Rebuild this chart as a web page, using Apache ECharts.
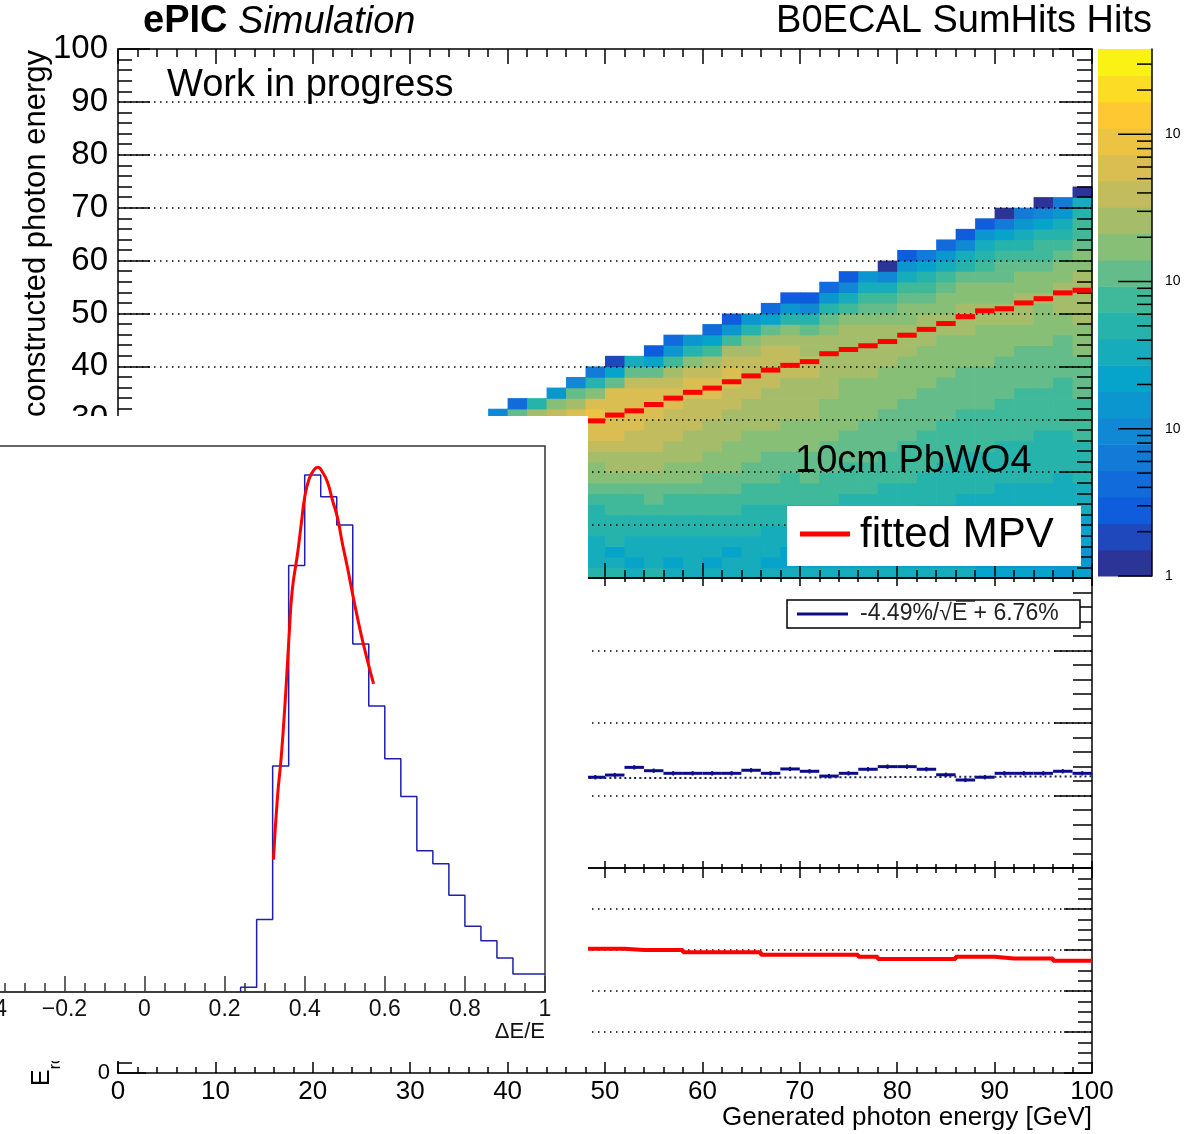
<!DOCTYPE html>
<html><head><meta charset="utf-8">
<script src="https://cdn.jsdelivr.net/npm/echarts@6/dist/echarts.min.js"></script>
<style>html,body{margin:0;padding:0;background:#fff}#c{width:1188px;height:1134px}</style>
</head><body><div id="c"></div>
<script>
// ================= DATA =================
// x bins (generated photon energy, GeV) for the per-bin results
const energyBinStarts = [48,50,52,54,56,58,60,62,64,66,68,70,72,74,76,78,80,82,84,86,88,90,92,94,96,98];
const energyBinWidth = 2;
// fitted MPV of reconstructed energy (GeV) per bin (top panel, red)
const mpvValues = [29.7,30.8,31.6,32.8,34.0,35.1,35.9,37.1,38.2,39.3,40.2,40.9,42.4,43.2,43.9,44.7,45.9,47.0,48.1,49.4,50.5,50.9,52.0,52.8,53.9,54.4];
// resolution (%) per bin (middle panel, blue points) and its error
const resolutionPct = [6.26,6.41,6.94,6.71,6.53,6.53,6.53,6.53,6.74,6.53,6.83,6.67,6.34,6.53,6.81,6.99,6.99,6.81,6.43,6.07,6.26,6.53,6.53,6.53,6.67,6.53];
const resolutionErr = [0.15,0.15,0.15,0.15,0.15,0.15,0.15,0.15,0.15,0.15,0.15,0.15,0.15,0.15,0.15,0.15,0.15,0.15,0.15,0.15,0.15,0.15,0.15,0.15,0.15,0.15];
// resolution fit curve
const resolutionFit = [[48.4,6.20],[60,6.21],[70,6.24],[80,6.27],[90,6.30],[100,6.32]];
const resolutionLegend = ['-4.49%/', '\u221A', 'E + 6.76%'];
// MPV / E_gen ratio (bottom panel, red)
const mpvRatio = [0.606,0.606,0.600,0.600,0.600,0.589,0.589,0.589,0.589,0.577,0.577,0.577,0.577,0.577,0.567,0.556,0.556,0.556,0.556,0.567,0.567,0.558,0.558,0.558,0.548,0.548];
// inset histogram dE/E
const insetBinEdges = [0.24,0.28,0.32,0.36,0.40,0.44,0.48,0.52,0.56,0.60,0.64,0.68,0.72,0.76,0.80,0.84,0.88,0.92,0.96,1.00];
const insetCounts = [9,140,437,825,1000,958,903,673,553,451,378,273,248,187,127,99,66,35,35];
const insetFit = [[0.322,256],[0.332,377],[0.342,460],[0.353,584],[0.361,689],[0.369,778],[0.382,847],[0.392,909],[0.400,957],[0.411,992],[0.423,1010],[0.433,1015],[0.444,1006],[0.457,986],[0.469,952],[0.482,917],[0.494,868],[0.507,820],[0.519,772],[0.532,723],[0.544,681],[0.557,640],[0.572,596]];
// 2D histogram: per x-bin start, colour-level (z contour, 0..19, base-20 digit) of each 2 GeV y-bin from y=0 upwards; '.' = not visible
const heatYBin = 2;
const zMin = 1, zMax = 3800, zLevels = 20;
const heatColumns = [
 [38, '...............5'],
 [40, '...............b3'],
 [42, '...............d9'],
 [44, '...............ec6'],
 [46, '...............fdb5'],
 [48, '9888999abccdeffgfc94'],
 [50, '987999aabcddefffffb71'],
 [52, '878899aabcddeeffffeb8'],
 [54, '988899abbcddeeefffeb72'],
 [56, '878899aabccddeeeffeda63'],
 [58, '888899aabccdddeeeffec96'],
 [60, '878899aabbccdddeeffeda73'],
 [62, '887899aabbcccdddeeffeda62'],
 [64, '8888999aabbcccdddeeeedc96'],
 [66, '8788899aabbbccddddeeeedb73'],
 [68, '8778899aaabbcccddddeeedc962'],
 [70, '8788899aabbbcccddddeeddb952'],
 [72, '8778899aaabbbccccddddddcb963'],
 [74, '87888999aaabbbcccccdddddca852'],
 [76, '87788899aaabbbbccccdddddcba86'],
 [78, '877888999aaabbbbccccddddcba850'],
 [80, '877888999aaaabbbbccccdddccba862'],
 [82, '8778888999aaaabbbbccccdddcba974'],
 [84, '87778889999aaaabbbbccccddccba863'],
 [86, '877788889999aaaabbbbcccdddccb9852'],
 [88, '767778889999aaaabbbbccccddccba9862'],
 [90, '7677788889999aaaabbbbcccddccbba9740'],
 [92, '7667778889999aaaaabbbbccdddccba9864'],
 [94, '76677788899999aaaabbbbccccdccbaa9750'],
 [96, '66677788889999aaaaabbbbccdddccba9864'],
 [98, '7667778889999aaaabbbbcccdddddccbaa980']
];
const colorbarTicks = [1,2,3,4,5,6,7,8,9,10,20,30,40,50,60,70,80,90,100,200,300,400,500,600,700,800,900,1000,2000,3000];

// ================= HELPERS =================
const FONT = '"Liberation Sans", Arial, Helvetica, sans-serif';
const LOG_ZMAX = Math.log10(zMax);
const BIRD = [[53,42,135],[15,92,221],[20,129,214],[6,164,202],[46,183,164],[135,191,119],[209,187,89],[254,200,50],[249,251,14]];
function birdColor(t){
  const p = Math.max(0, Math.min(0.9999, t)) * (BIRD.length - 1);
  const i = Math.floor(p), f = p - i, a = BIRD[i], b = BIRD[i+1];
  return 'rgb(' + [0,1,2].map(k => Math.round(a[k] + f*(b[k]-a[k]))).join(',') + ')';
}
function levelOf(count){ return Math.max(0, Math.min(zLevels-1, Math.floor(Math.log10(count)/LOG_ZMAX*zLevels))); }
function levelColor(l){ return birdColor((l+0.5)/zLevels); }

const cells = [];
heatColumns.forEach(([x0, s]) => {
  for (let j = 0; j < s.length; j++) {
    if (s[j] === '.') continue;
    const lvl = parseInt(s[j], 20);
    cells.push([x0, j*heatYBin, Math.round(Math.pow(10, (lvl+0.5)/zLevels*LOG_ZMAX)*10)/10]);
  }
});
const bands = [];
for (let k = 0; k < zLevels; k++) bands.push([Math.pow(10, k/zLevels*LOG_ZMAX), Math.pow(10, (k+1)/zLevels*LOG_ZMAX), k]);

const DOT = { show: true, showMinLine: false, showMaxLine: false, lineStyle: { color: '#000', width: 1.5, type: [1.5, 4.5] } };
function ax(o){
  return {
    type: 'value', gridIndex: o.grid, position: o.pos, min: o.min, max: o.max, interval: o.interval, z: o.z || 10,
    axisLine: { show: true, onZero: false, lineStyle: { color: o.lc || '#000', width: 1.5 } },
    axisTick: { show: true, inside: true, length: o.major, lineStyle: { color: o.lc || '#000', width: 1.5 } },
    minorTick: { show: true, splitNumber: o.split, length: o.minor, lineStyle: { color: o.lc || '#000', width: 1.5 } },
    axisLabel: o.label ? Object.assign({ show: true, color: '#000', fontFamily: FONT }, o.label) : { show: false },
    splitLine: o.grid_ ? DOT : { show: false }
  };
}

// ================= OPTION =================
const G = (l,t,w,h,extra) => Object.assign({ left:l, top:t, width:w, height:h, containLabel:false, outerBoundsMode:'none' }, extra||{});
const option = {
  animation: false,
  backgroundColor: '#fff',
  grid: [
    G(118, 49, 974, 529),
    G(118, 578, 974, 290),
    G(118, 868, 974, 205),
    G(-256, 446, 801, 546, { show: true, borderColor: '#333', borderWidth: 1.5, backgroundColor: 'transparent', z: 45 }),
    G(1098, 49, 54, 527)
  ],
  xAxis: [
    ax({ grid:0, pos:'bottom', min:0, max:100, interval:10, split:5, major:15, minor:8 }),
    ax({ grid:0, pos:'top', min:0, max:100, interval:10, split:5, major:15, minor:8 }),
    ax({ grid:1, pos:'bottom', min:0, max:100, interval:10, split:5, major:7, minor:4 }),
    ax({ grid:1, pos:'top', min:0, max:100, interval:10, split:5, major:8, minor:4 }),
    ax({ grid:2, pos:'bottom', min:0, max:100, interval:10, split:5, major:11, minor:6, label:{ fontSize:26, margin:6 } }),
    ax({ grid:2, pos:'top', min:0, max:100, interval:10, split:5, major:10, minor:5 }),
    ax({ grid:3, pos:'bottom', min:-1, max:1, interval:0.2, split:4, major:16, minor:9, z:50, lc:'#333',
         label:{ fontSize:23, margin:6, color:'#111', formatter: v => (Math.round(v*10)/10).toString().replace('-', '\u2212') } }),
    { type:'value', gridIndex:4, min:0, max:1, show:false }
  ],
  yAxis: [
    Object.assign(ax({ grid:0, pos:'left', min:0, max:100, interval:10, split:5, major:32, minor:14, label:{ fontSize:33, margin:10 } }), { splitLine: DOT }),
    ax({ grid:0, pos:'right', min:0, max:100, interval:10, split:5, major:33, minor:15 }),
    Object.assign(ax({ grid:1, pos:'left', min:0, max:20, interval:5, split:5, major:38, minor:19, label:{ fontSize:22, margin:8 } }), { splitLine: DOT }),
    ax({ grid:1, pos:'right', min:0, max:20, interval:5, split:5, major:38, minor:19 }),
    Object.assign(ax({ grid:2, pos:'left', min:0, max:1, interval:0.2, split:4, major:28, minor:14, label:{ fontSize:22, margin:8 } }), { splitLine: DOT }),
    ax({ grid:2, pos:'right', min:0, max:1, interval:0.2, split:4, major:28, minor:14 }),
    { type:'value', gridIndex:3, min:0, max:1056, show:false },
    { type:'log', logBase:10, gridIndex:4, min:zMin, max:zMax, position:'right', z:10,
      axisLine:{ show:true, onZero:false, lineStyle:{ color:'#000', width:1.5 } },
      axisTick:{ show:false }, minorTick:{ show:false }, splitLine:{ show:false },
      axisLabel:{ show:true, fontSize:14, margin:13, color:'#000', fontFamily:FONT, showMaxLabel:false,
        formatter: v => { const e = Math.round(Math.log10(v)); return e === 0 ? '1' : '10{e|' + e + '}'; },
        rich:{ e:{ fontSize:10, padding:[0,0,8,8], fontFamily:FONT, color:'#000' } } } }
  ],
  series: [
    { type:'custom', name:'heat', xAxisIndex:0, yAxisIndex:0, z:2, data: cells,
      renderItem: (p, api) => {
        const x = api.value(0), y = api.value(1), c = api.value(2);
        const a = api.coord([x, y]), b = api.coord([x + energyBinWidth, y + heatYBin]);
        return { type:'rect', shape:{ x:a[0], y:b[1], width:b[0]-a[0]+0.7, height:a[1]-b[1]+0.7 }, style:{ fill: levelColor(levelOf(c)) } };
      } },
    { type:'custom', name:'fitted MPV', xAxisIndex:0, yAxisIndex:0, z:12,
      data: energyBinStarts.map((x,i) => [x, mpvValues[i]]),
      renderItem: (p, api) => {
        const a = api.coord([api.value(0), api.value(1)]), b = api.coord([api.value(0) + energyBinWidth, api.value(1)]);
        return { type:'rect', shape:{ x:a[0], y:a[1]-2.5, width:b[0]-a[0], height:5 }, style:{ fill:'#ff0000' } };
      } },
    { type:'custom', name:'resolution', xAxisIndex:2, yAxisIndex:2, z:12,
      data: energyBinStarts.map((x,i) => [x, resolutionPct[i], resolutionErr[i]]),
      renderItem: (p, api) => {
        const x = api.value(0), v = api.value(1), e = api.value(2);
        const a = api.coord([x, v]), b = api.coord([x + energyBinWidth, v]);
        const t = api.coord([x + energyBinWidth/2, v + e]), d = api.coord([x + energyBinWidth/2, v - e]);
        return { type:'group', children:[
          { type:'line', shape:{ x1:a[0], y1:a[1], x2:b[0], y2:b[1] }, style:{ stroke:'#0c0c8a', lineWidth:3 } },
          { type:'line', shape:{ x1:t[0], y1:t[1], x2:d[0], y2:d[1] }, style:{ stroke:'#0c0c8a', lineWidth:2 } }
        ] };
      } },
    { type:'line', name:'fit', xAxisIndex:2, yAxisIndex:2, z:11, data: resolutionFit, symbol:'none', smooth:true,
      lineStyle:{ color:'#222244', width:2, type:[2,3] } },
    { type:'line', name:'ratio', xAxisIndex:4, yAxisIndex:4, z:12, step:'end', symbol:'none',
      data: energyBinStarts.map((x,i) => [x, mpvRatio[i]]).concat([[energyBinStarts[energyBinStarts.length-1] + energyBinWidth, mpvRatio[mpvRatio.length-1]]]),
      lineStyle:{ color:'#ff0000', width:4 } },
    { type:'line', name:'dE/E', xAxisIndex:6, yAxisIndex:6, z:50, step:'end', symbol:'none',
      data: [[insetBinEdges[0], 0]].concat(insetCounts.map((c,i) => [insetBinEdges[i], c])).concat([[insetBinEdges[insetBinEdges.length-1], insetCounts[insetCounts.length-1]]]),
      lineStyle:{ color:'#1e1eb0', width:1.5 } },
    { type:'line', name:'dE/E fit', xAxisIndex:6, yAxisIndex:6, z:51, symbol:'none', smooth:true, data: insetFit,
      lineStyle:{ color:'#ff0000', width:3 } },
    { type:'custom', name:'palette', xAxisIndex:7, yAxisIndex:7, z:5, data: bands,
      renderItem: (p, api) => {
        const a = api.coord([0, api.value(0)]), b = api.coord([1, api.value(1)]);
        return { type:'rect', shape:{ x:a[0], y:b[1], width:b[0]-a[0], height:a[1]-b[1]+0.6 }, style:{ fill: levelColor(api.value(2)) } };
      } },
    { type:'custom', name:'paletteTicks', xAxisIndex:7, yAxisIndex:7, z:12,
      data: colorbarTicks.map(v => [v, Math.abs(Math.log10(v) - Math.round(Math.log10(v))) < 1e-9 ? 1 : 0]),
      renderItem: (p, api) => {
        const r = api.coord([1, api.value(0)]);
        const len = api.value(1) ? 34 : 15;
        return { type:'line', shape:{ x1:r[0]-len, y1:r[1], x2:r[0], y2:r[1] }, style:{ stroke:'#000', lineWidth:1.5 } };
      } }
  ],
  graphic: [
    // titles
    { type:'text', x:143, y:22, z:30, style:{ text:'{b|ePIC} {i|Simulation}', fontSize:38, fontFamily:FONT, fill:'#000', verticalAlign:'middle',
      rich:{ b:{ fontWeight:'bold', fontSize:38, fontFamily:FONT }, i:{ fontStyle:'italic', fontSize:38, fontFamily:FONT } } } },
    { type:'text', x:1152, y:22, z:30, style:{ text:'B0ECAL SumHits Hits', fontSize:38, fontFamily:FONT, fill:'#000', align:'right', verticalAlign:'middle' } },
    { type:'text', x:167, y:86, z:30, style:{ text:'Work in progress', fontSize:38, fontFamily:FONT, fill:'#000', verticalAlign:'middle' } },
    { type:'text', x:795, y:462, z:30, style:{ text:'10cm PbWO4', fontSize:38, fontFamily:FONT, fill:'#000', verticalAlign:'middle' } },
    // axis titles
    { type:'text', x:36, y:50, rotation:Math.PI/2, z:30, style:{ text:'Reconstructed photon energy', fontSize:31, fontFamily:FONT, fill:'#000', align:'right', verticalAlign:'middle' } },
    { type:'text', x:1092, y:1118, z:30, style:{ text:'Generated photon energy [GeV]', fontSize:26, fontFamily:FONT, fill:'#000', align:'right', verticalAlign:'middle' } },
    { type:'text', x:47, y:1086, rotation:Math.PI/2, z:30, style:{ text:'{n|E}{s|rc}{n|/E}{s|gen}', fontFamily:FONT, fill:'#000', align:'left', verticalAlign:'middle',
      rich:{ n:{ fontSize:25, lineHeight:34, verticalAlign:'top', fontFamily:FONT }, s:{ fontSize:16, lineHeight:34, verticalAlign:'bottom', fontFamily:FONT } } } },
    // legend top panel
    { type:'rect', z:30, shape:{ x:787, y:506, width:294, height:60 }, style:{ fill:'#fff' } },
    { type:'line', z:31, shape:{ x1:800, y1:534, x2:850, y2:534 }, style:{ stroke:'#ff0000', lineWidth:5 } },
    { type:'text', x:860, y:535, z:31, style:{ text:'fitted MPV', fontSize:42, fontFamily:FONT, fill:'#000', verticalAlign:'middle' } },
    // legend middle panel
    { type:'rect', z:30, shape:{ x:787, y:600, width:293, height:28 }, style:{ fill:'#fff', stroke:'#000', lineWidth:1.5 } },
    { type:'line', z:31, shape:{ x1:797, y1:614, x2:848, y2:614 }, style:{ stroke:'#0c0c8a', lineWidth:3 } },
    { type:'text', x:860, y:614, z:31, style:{ text: resolutionLegend.join(''), fontSize:23, fontFamily:FONT, fill:'#222', verticalAlign:'middle' } },
    { type:'line', z:31, shape:{ x1:956, y1:601, x2:975, y2:601 }, style:{ stroke:'#222', lineWidth:1.5 } },
    // inset pad (white) and inset texts
    { type:'rect', z:40, shape:{ x:0, y:416, width:588, height:645 }, style:{ fill:'#fff' } },
    { type:'text', x:545, y:1032, z:60, style:{ text:'\u0394E/E', fontSize:22, fontFamily:FONT, fill:'#111', align:'right', verticalAlign:'middle' } }
  ]
};
const chart = echarts.init(document.getElementById('c'), null, { renderer:'canvas', width:1188, height:1134 });
chart.setOption(option);
</script></body></html>
